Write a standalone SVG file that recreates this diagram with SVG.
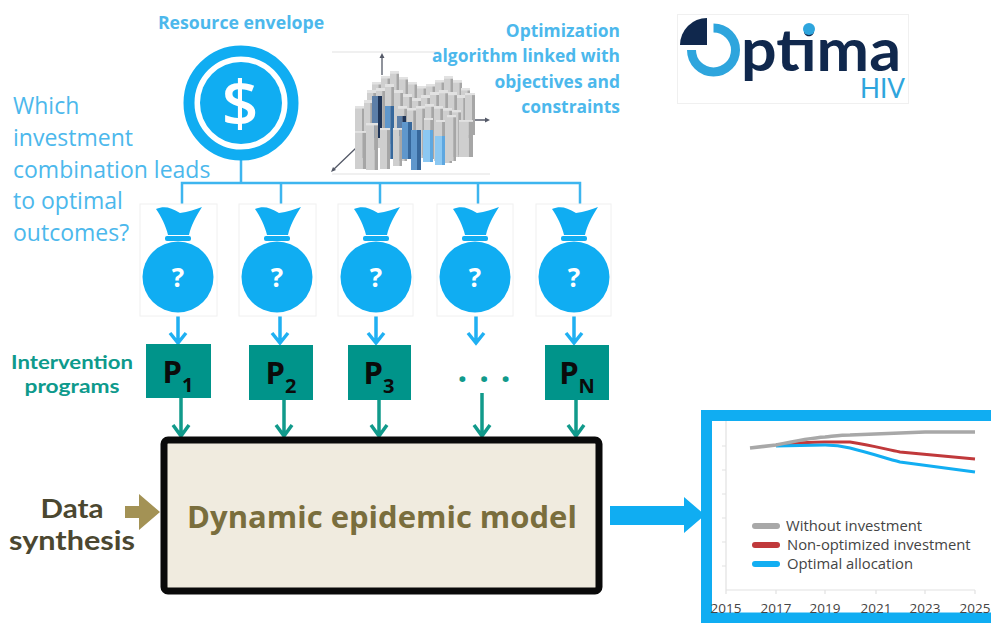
<svg xmlns="http://www.w3.org/2000/svg" xmlns:xlink="http://www.w3.org/1999/xlink" width="991" height="623" viewBox="0 0 991 623">
<style>
text{font-family:"Open Sans","Liberation Sans",sans-serif}
.lb{fill:#4cb8ec;font-weight:700;font-size:17.400px}
.q{fill:#4cb8ec;font-size:23px}
.wire{fill:none;stroke:#3db5ef;stroke-width:2.5}
.ba{fill:none;stroke:#1fb0f2;stroke-width:3.5}
.ga{fill:none;stroke:#119a8b;stroke-width:3.5}
.prog{fill:#00948a}
.pt{font-weight:700;font-size:31px;fill:#0b0b0b;text-anchor:middle}
.pt tspan{font-size:20px}
.frame{fill:#fff;stroke:#f0f0f0;stroke-width:1}
.bag{fill:#10adf2}
.qm{fill:#fff;font-weight:700;font-size:26px;text-anchor:middle}
.yr{font-size:13.500px;fill:#444;text-anchor:middle}
.lg{font-size:14.800px;fill:#444}
.ax{stroke:#e2e2e2;stroke-width:1.2;fill:none}
.ar3{stroke:#555a68;stroke-width:1.3;fill:none}
.la{font-family:Lato,"Open Sans",sans-serif}
.c1{fill:#cfcfcf}.c2{fill:#a6a6a6}.c3{fill:#e2e2e2}.n1{fill:#5d7fa8}.n2{fill:#1f3558}.m1{fill:#5f97cc}.m2{fill:#37689c}.l1{fill:#8cc8f2}.l2{fill:#5ea7e0}
</style>
<defs>
<symbol id="c" viewBox="0 0 10 40" preserveAspectRatio="none"><rect width="7" height="40" class="c1"/><rect x="7" width="3" height="40" class="c2"/><rect width="10" height="2" class="c3"/></symbol>
<symbol id="n" viewBox="0 0 10 40" preserveAspectRatio="none"><rect width="6" height="40" class="n1"/><rect x="6" width="4" height="40" class="n2"/></symbol>
<symbol id="m" viewBox="0 0 10 40" preserveAspectRatio="none"><rect width="6" height="40" class="m1"/><rect x="6" width="4" height="40" class="m2"/></symbol>
<symbol id="l" viewBox="0 0 10 40" preserveAspectRatio="none"><rect width="7" height="40" class="l1"/><rect x="7" width="3" height="40" class="l2"/></symbol>
<g id="bagshape">
<path class="bag" d="M-22 209C-14 206-8 207 2 213C10 212 18 209 24 207C18 216 13 226 11 235H-10C-12 226-17 216-22 209Z"/>
<rect class="bag" x="-13" y="236" width="26" height="5" rx="2"/>
<circle class="bag" cx="0" cy="277" r="35.500"/>
</g>
</defs>
<rect width="991" height="623" fill="#fff"/>

<g id="connectors">
<path class="wire" d="M241 160V183M182 205V183H580V205M281 183V205M380 183V205M478 183V205"/>
<path class="ba" d="M178 312V342M170 333L178 343L186 333M280 314V342M272 333L280 343L288 333M376 314V342M368 333L376 343L384 333M476 314V342M468 333L476 343L484 333M574 314V342M566 333L574 343L582 333"/>
<path class="ga" d="M181 398V435M173 425L181 436L189 425M284 400V435M276 425L284 436L292 425M379 400V435M371 425L379 436L387 425M482 393V435M474 425L482 436L490 425M576 400V435M568 425L576 436L584 425"/>
<path fill="#a39255" d="M125 506H139V494L160 512L139 530V518H125Z"/>
<path fill="#10adf2" d="M610 506H684V497L705 515L684 533V525H610Z"/>
</g>

<g id="resource">
<text class="lb" x="241" y="29" text-anchor="middle" style="font-size:17.700px">Resource envelope</text>
<circle cx="241" cy="103" r="52" fill="#fff" stroke="#10adf2" stroke-width="11"/>
<circle cx="241" cy="103" r="41" fill="#10adf2"/>
<text x="240" y="126" text-anchor="middle" font-size="64" font-weight="600" fill="#fff">$</text>
</g>

<g id="question"><text class="q" x="13" y="114">Which</text><text class="q" x="13" y="146">investment</text><text class="q" x="13" y="178">combination leads</text><text class="q" x="13" y="209">to optimal</text><text class="q" x="13" y="241">outcomes?</text></g>

<g id="optimization-chart">
<path class="ax" d="M332 52H440M332 174H490"/>
<path class="ar3" d="M382 75V56M470 120H486M356 148L333 170"/>
<path fill="#555a68" d="M382 53l-2.500 5h5zM490 120l-5-2.500v5zM331 172l5-2-3-3z"/>
<use href="#c" x="372" y="82" width="9" height="50"/><use href="#c" x="381" y="76" width="9" height="50"/><use href="#c" x="390" y="71" width="9" height="55"/><use href="#c" x="399" y="77" width="9" height="50"/><use href="#c" x="408" y="82" width="9" height="50"/><use href="#c" x="417" y="86" width="9" height="50"/><use href="#c" x="426" y="84" width="9" height="50"/><use href="#c" x="435" y="80" width="9" height="50"/><use href="#c" x="444" y="76" width="9" height="55"/><use href="#c" x="453" y="80" width="9" height="55"/><use href="#c" x="461" y="88" width="9" height="50"/>
<use href="#c" x="367" y="90" width="9" height="60"/><use href="#c" x="376" y="88" width="9" height="60"/><use href="#c" x="385" y="84" width="9" height="60"/><use href="#c" x="394" y="90" width="9" height="60"/><use href="#c" x="403" y="94" width="9" height="60"/><use href="#c" x="412" y="98" width="9" height="60"/><use href="#c" x="421" y="95" width="9" height="60"/><use href="#c" x="430" y="92" width="9" height="60"/><use href="#c" x="439" y="90" width="9" height="65"/><use href="#c" x="448" y="92" width="9" height="63"/><use href="#c" x="457" y="95" width="9" height="60"/><use href="#c" x="465" y="93" width="10" height="42"/>
<use href="#c" x="355" y="106" width="10" height="52"/><use href="#c" x="364" y="100" width="9" height="60"/><use href="#n" x="372" y="96" width="10" height="42"/><use href="#c" x="398" y="106" width="9" height="55"/><use href="#c" x="407" y="108" width="9" height="50"/><use href="#c" x="416" y="106" width="9" height="52"/><use href="#c" x="425" y="104" width="9" height="55"/><use href="#c" x="434" y="106" width="9" height="55"/><use href="#c" x="443" y="108" width="9" height="55"/><use href="#c" x="452" y="110" width="9" height="47"/>
<use href="#c" x="424" y="118" width="9" height="40"/><use href="#c" x="436" y="120" width="9" height="40"/><use href="#c" x="447" y="115" width="9" height="46"/>
<use href="#m" x="385" y="106" width="9" height="53"/><use href="#n" x="397" y="116" width="9" height="20"/>
<use href="#c" x="366" y="123" width="12" height="47"/><use href="#c" x="355" y="131" width="11" height="38"/><use href="#c" x="380" y="128" width="10" height="41"/><use href="#c" x="393" y="128" width="9" height="38"/><use href="#m" x="402" y="122" width="10" height="37"/><use href="#m" x="411" y="130" width="10" height="40"/><use href="#l" x="423" y="130" width="10" height="32"/><use href="#l" x="435" y="136" width="10" height="29"/><use href="#c" x="459" y="120" width="14" height="37"/>
</g>

<g id="optimization-label"><text class="lb" x="620" y="37" text-anchor="end">Optimization</text><text class="lb" x="620" y="62" text-anchor="end">algorithm linked with</text><text class="lb" x="620" y="88" text-anchor="end">objectives and</text><text class="lb" x="620" y="113" text-anchor="end">constraints</text></g>

<g id="logo">
<rect x="677.500" y="14.500" width="231" height="89" fill="#fff" stroke="#f0f0f0"/>
<path d="M691.500 50A22 22 0 1 0 713.500 28" fill="none" stroke="#2ea5dd" stroke-width="9"/>
<path d="M707 18V45H680A27 27 0 0 1 707 18Z" fill="#10284d"/>
<text class="la" x="741" y="71" font-size="60" font-weight="700" fill="#10284d" textLength="160" lengthAdjust="spacingAndGlyphs">ptima</text>
<circle cx="809" cy="29" r="6" fill="#2ea5dd"/>
<text class="la" x="860" y="98" font-size="26" fill="#2ea5dd" textLength="45" lengthAdjust="spacingAndGlyphs">HIV</text>
</g>

<g id="bag1"><rect class="frame" x="140" y="204" width="77" height="112"/><use href="#bagshape" x="178"/><text class="qm" x="178" y="287">?</text></g>
<g id="bag2"><rect class="frame" x="239" y="204" width="77" height="112"/><use href="#bagshape" x="277"/><text class="qm" x="277" y="287">?</text></g>
<g id="bag3"><rect class="frame" x="338" y="204" width="75" height="112"/><use href="#bagshape" x="376"/><text class="qm" x="376" y="287">?</text></g>
<g id="bag4"><rect class="frame" x="437" y="204" width="76" height="112"/><use href="#bagshape" x="475"/><text class="qm" x="475" y="287">?</text></g>
<g id="bag5"><rect class="frame" x="536" y="204" width="75" height="112"/><use href="#bagshape" x="574"/><text class="qm" x="574" y="287">?</text></g>

<g id="intervention-label" fill="#0e9a8c" font-weight="700" font-size="19.800" text-anchor="middle"><text class="la" x="72" y="369" textLength="122" lengthAdjust="spacingAndGlyphs">Intervention</text><text class="la" x="72" y="393" textLength="95" lengthAdjust="spacingAndGlyphs">programs</text></g>

<g id="p1"><rect class="prog" x="146" y="344" width="65" height="54"/><text class="pt" x="178" y="383">P<tspan dy="9">1</tspan></text></g>
<g id="p2"><rect class="prog" x="249" y="345" width="64" height="55"/><text class="pt" x="281" y="384">P<tspan dy="9">2</tspan></text></g>
<g id="p3"><rect class="prog" x="348" y="345" width="63" height="55"/><text class="pt" x="379" y="384">P<tspan dy="9">3</tspan></text></g>
<g id="pdots" fill="#119a8b"><text x="490" y="382" text-anchor="middle" font-size="34" font-weight="700" letter-spacing="12">...</text></g>
<g id="pn"><rect class="prog" x="545" y="345" width="64" height="55"/><text class="pt" x="577" y="384">P<tspan dy="9">N</tspan></text></g>

<g id="model">
<rect x="164" y="440" width="435" height="151" rx="4" fill="#f0ebdf" stroke="#0a0a0a" stroke-width="7"/>
<text x="382" y="528" text-anchor="middle" font-size="31" font-weight="700" fill="#7a6e3d">Dynamic epidemic model</text>
</g>

<g id="data-synthesis" fill="#4b4730" font-weight="700" font-size="26.500" text-anchor="middle"><text class="la" x="72" y="518" textLength="63" lengthAdjust="spacingAndGlyphs">Data</text><text class="la" x="72" y="550" textLength="126" lengthAdjust="spacingAndGlyphs">synthesis</text></g>

<g id="result-chart">
<rect x="706.500" y="415.500" width="290" height="202.500" fill="#fff" stroke="#10adf2" stroke-width="11"/>
<path class="ax" d="M726 421V590H975M726 590v4M776 590v4M825 590v4M876 590v4M925 590v4M975 590v4M722 446h4M722 470h4M722 494h4M722 518h4M722 542h4M722 566h4"/>
<path fill="none" stroke="#c0393b" stroke-width="3" d="M776 445C795 443 810 442 825 442L850 442C870 445 885 449 900 452L975 459"/>
<path fill="none" stroke="#12aef2" stroke-width="3" d="M776 446L825 445C835 445 842 446 850 448C870 453 885 458 900 462L975 472"/>
<path fill="none" stroke="#a8a8a8" stroke-width="3.500" d="M750 448L776 445C795 441 810 438 825 437C835 436 842 435 850 435L925 432L975 432"/>
<path fill="none" stroke="#a8a8a8" stroke-width="6" stroke-linecap="round" d="M755 526H777"/>
<path fill="none" stroke="#c0393b" stroke-width="6" stroke-linecap="round" d="M755 545H777"/>
<path fill="none" stroke="#12aef2" stroke-width="6" stroke-linecap="round" d="M755 564H777"/>
<text class="lg" x="786" y="531">Without investment</text><text class="lg" x="787" y="550">Non-optimized investment</text><text class="lg" x="787" y="569">Optimal allocation</text>
<text class="yr" x="726" y="613">2015</text><text class="yr" x="776" y="613">2017</text><text class="yr" x="825" y="613">2019</text><text class="yr" x="876" y="613">2021</text><text class="yr" x="925" y="613">2023</text><text class="yr" x="975" y="613">2025</text>
</g>
</svg>
